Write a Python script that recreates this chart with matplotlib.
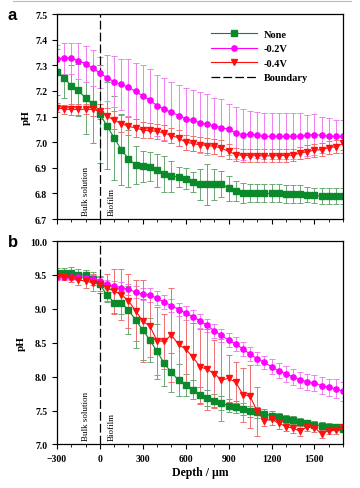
import numpy as np
import matplotlib
matplotlib.use('Agg')
import matplotlib.pyplot as plt
from matplotlib.ticker import MultipleLocator
from matplotlib.lines import Line2D

plt.rcParams['font.family'] = ['Liberation Serif', 'DejaVu Serif']

depth = np.arange(-300, 1701, 50)

# panel a
a_none = [7.275, 7.252, 7.22, 7.204, 7.172, 7.148, 7.11, 7.064, 7.017, 6.971, 6.936, 6.91, 6.906,
          6.905, 6.89, 6.875, 6.867, 6.865, 6.858, 6.844, 6.836, 6.836, 6.836, 6.836, 6.82, 6.81, 6.802,
          6.80, 6.80, 6.80, 6.80, 6.80, 6.798, 6.797, 6.796, 6.795, 6.792, 6.79, 6.79, 6.79, 6.79]
a_none_err = [0.09, 0.08, 0.08, 0.10, 0.14, 0.15, 0.19, 0.17, 0.165, 0.14, 0.11, 0.075, 0.06,
              0.055, 0.065, 0.07, 0.06, 0.04, 0.04, 0.04, 0.06, 0.08, 0.06, 0.05, 0.05, 0.04, 0.04,
              0.035, 0.035, 0.035, 0.035, 0.035, 0.035, 0.035, 0.035, 0.03, 0.03, 0.03, 0.03, 0.03, 0.03]
a_02 = [7.325, 7.328, 7.328, 7.318, 7.306, 7.289, 7.271, 7.251, 7.237, 7.226, 7.214, 7.199, 7.18,
        7.164, 7.143, 7.129, 7.117, 7.104, 7.091, 7.085, 7.076, 7.070, 7.064, 7.057, 7.051, 7.036, 7.03,
        7.031, 7.027, 7.023, 7.023, 7.023, 7.023, 7.023, 7.023, 7.027, 7.03, 7.027, 7.023, 7.023, 7.023]
a_02_err = [0.055, 0.06, 0.06, 0.07, 0.07, 0.07, 0.06, 0.09, 0.1, 0.1, 0.11, 0.11, 0.12,
            0.12, 0.12, 0.12, 0.12, 0.12, 0.12, 0.12, 0.12, 0.12, 0.11, 0.11, 0.1, 0.1, 0.1,
            0.09, 0.09, 0.09, 0.09, 0.09, 0.09, 0.09, 0.09, 0.08, 0.08, 0.07, 0.07, 0.065, 0.065]
a_04 = [7.135, 7.129, 7.128, 7.128, 7.129, 7.128, 7.121, 7.102, 7.086, 7.073, 7.062, 7.056, 7.047,
        7.046, 7.042, 7.036, 7.026, 7.017, 7.0, 6.995, 6.99, 6.987, 6.984, 6.977, 6.964, 6.952, 6.948,
        6.948, 6.947, 6.947, 6.947, 6.948, 6.948, 6.95, 6.958, 6.963, 6.969, 6.971, 6.979, 6.982, 6.995]
a_04_err = [0.018, 0.018, 0.02, 0.02, 0.02, 0.025, 0.03, 0.03, 0.035, 0.035, 0.035, 0.035, 0.03,
            0.03, 0.03, 0.03, 0.03, 0.03, 0.03, 0.03, 0.03, 0.03, 0.03, 0.03, 0.03, 0.025, 0.025,
            0.025, 0.025, 0.025, 0.025, 0.025, 0.025, 0.025, 0.025, 0.025, 0.025, 0.025, 0.025, 0.025, 0.025]

# panel b
b_none = [9.525, 9.525, 9.53, 9.505, 9.50, 9.446, 9.36, 9.206, 9.093, 9.093, 8.984, 8.836, 8.69,
          8.539, 8.373, 8.196, 8.064, 7.951, 7.882, 7.804, 7.735, 7.686, 7.647, 7.608, 7.574, 7.549, 7.525,
          7.49, 7.475, 7.45, 7.426, 7.40, 7.377, 7.363, 7.333, 7.314, 7.294, 7.275, 7.265, 7.255, 7.235]
b_none_err = [0.085, 0.085, 0.085, 0.08, 0.08, 0.1, 0.12, 0.1, 0.15, 0.17, 0.36, 0.41, 0.45,
              0.33, 0.41, 0.33, 0.29, 0.24, 0.16, 0.14, 0.12, 0.12, 0.1, 0.1, 0.1, 0.09, 0.09,
              0.08, 0.08, 0.07, 0.07, 0.07, 0.06, 0.06, 0.06, 0.05, 0.05, 0.05, 0.045, 0.045, 0.04]
b_02 = [9.47, 9.47, 9.475, 9.475, 9.46, 9.446, 9.41, 9.363, 9.33, 9.314, 9.29, 9.245, 9.216,
        9.206, 9.157, 9.098, 9.049, 8.99, 8.94, 8.887, 8.824, 8.755, 8.676, 8.608, 8.539, 8.48, 8.41,
        8.333, 8.265, 8.21, 8.147, 8.088, 8.04, 8.0, 7.951, 7.926, 7.902, 7.868, 7.843, 7.819, 7.784]
b_02_err = [0.05, 0.05, 0.05, 0.05, 0.05, 0.05, 0.06, 0.07, 0.08, 0.08, 0.08, 0.09, 0.09,
            0.1, 0.1, 0.1, 0.1, 0.1, 0.1, 0.1, 0.1, 0.1, 0.1, 0.1, 0.1, 0.1, 0.1,
            0.1, 0.1, 0.1, 0.11, 0.11, 0.12, 0.12, 0.12, 0.12, 0.12, 0.13, 0.13, 0.14, 0.14]
b_04 = [9.485, 9.47, 9.45, 9.426, 9.41, 9.387, 9.363, 9.31, 9.26, 9.21, 9.12, 8.97, 8.82,
        8.745, 8.53, 8.52, 8.615, 8.475, 8.407, 8.29, 8.147, 8.108, 8.045, 7.951, 7.975, 7.917, 7.735,
        7.71, 7.49, 7.353, 7.37, 7.314, 7.265, 7.24, 7.196, 7.263, 7.25, 7.157, 7.206, 7.21, 7.255]
b_04_err = [0.05, 0.05, 0.06, 0.08, 0.1, 0.12, 0.1, 0.2, 0.33, 0.38, 0.4, 0.45, 0.6,
            0.45, 0.5, 0.4, 0.7, 0.55, 0.5, 0.5, 0.55, 0.6, 0.5, 0.6, 0.35, 0.3, 0.4,
            0.46, 0.36, 0.08, 0.08, 0.08, 0.07, 0.07, 0.07, 0.06, 0.06, 0.06, 0.05, 0.05, 0.05]

labels = ['None', '-0.2V', '-0.4V']
colors = ['#0a8a2a', '#ff00ff', '#ff1010']
ecolors = ['#6aa872', '#f080f0', '#f07070']
markers = ['s', 'o', 'v']

fig = plt.figure(figsize=(3.6, 4.89), dpi=100)
ax_a = fig.add_axes([0.158, 0.550, 0.795, 0.419])
ax_b = fig.add_axes([0.158, 0.089, 0.795, 0.416])


def draw_panel(ax, series, errs):
    handles = []
    for y, e, c, ec, m, lab in zip(series, errs, colors, ecolors, markers, labels):
        eb = ax.errorbar(depth, y, yerr=e, fmt='-' + m, color=c, ecolor=ec,
                         elinewidth=0.7, capsize=2, capthick=0.7, lw=0.8, ms=3.8,
                         mec=c, mfc=c, label=lab)
        handles.append(eb[0])
    bl = ax.axvline(0, color='black', lw=0.9, ls=(0, (7, 2.5)), label='Boundary')
    handles.append(bl)
    ax.set_xlim(-300, 1700)
    ax.xaxis.set_major_locator(MultipleLocator(300))
    ax.xaxis.set_minor_locator(MultipleLocator(100))
    ax.tick_params(which='major', direction='out', length=3.5, width=0.8, labelsize=7)
    ax.tick_params(which='minor', direction='out', length=2, width=0.6)
    for s in ax.spines.values():
        s.set_linewidth(0.9)
    ax.set_ylabel('pH', fontsize=8, fontweight='bold', labelpad=3)
    return handles


h = draw_panel(ax_a, [a_none, a_02, a_04], [a_none_err, a_02_err, a_04_err])
ax_a.set_ylim(6.7, 7.5)
ax_a.yaxis.set_major_locator(MultipleLocator(0.1))
ax_a.yaxis.set_major_formatter(plt.FormatStrFormatter('%.1f'))
ax_a.set_xticklabels([])
for lbl in ax_a.get_yticklabels():
    lbl.set_fontweight('bold')
ax_a.text(-100, 6.715, 'Bulk solution', rotation=90, fontsize=6.5, ha='center', va='bottom')
ax_a.text(80, 6.715, 'Biofilm', rotation=90, fontsize=6.5, ha='center', va='bottom')
ax_a.legend(handles=h, labels=labels + ['Boundary'], loc='upper left',
            bbox_to_anchor=(0.52, 0.95), frameon=False,
            prop={'weight': 'bold', 'size': 7.5}, handlelength=4.4,
            handletextpad=0.7, labelspacing=0.5, borderpad=0)

draw_panel(ax_b, [b_none, b_02, b_04], [b_none_err, b_02_err, b_04_err])
ax_b.set_ylim(7.0, 10.0)
ax_b.yaxis.set_major_locator(MultipleLocator(0.5))
ax_b.yaxis.set_major_formatter(plt.FormatStrFormatter('%.1f'))
for lbl in ax_b.get_yticklabels() + ax_b.get_xticklabels():
    lbl.set_fontweight('bold')
ax_b.text(-100, 7.06, 'Bulk solution', rotation=90, fontsize=6.5, ha='center', va='bottom')
ax_b.text(80, 7.06, 'Biofilm', rotation=90, fontsize=6.5, ha='center', va='bottom')
ax_b.set_xlabel('Depth / \u00b5m', fontsize=8.5, fontweight='bold', labelpad=2)

fig.text(0.022, 0.968, 'a', fontsize=12, fontweight='bold', family='Liberation Sans', va='center')
fig.text(0.022, 0.505, 'b', fontsize=12, fontweight='bold', family='Liberation Sans', va='center')
fig.add_artist(Line2D([0.035, 0.975], [0.996, 0.996], transform=fig.transFigure,
                      color='#bbbbbb', lw=0.8))

fig.savefig('out.png', dpi=100)
